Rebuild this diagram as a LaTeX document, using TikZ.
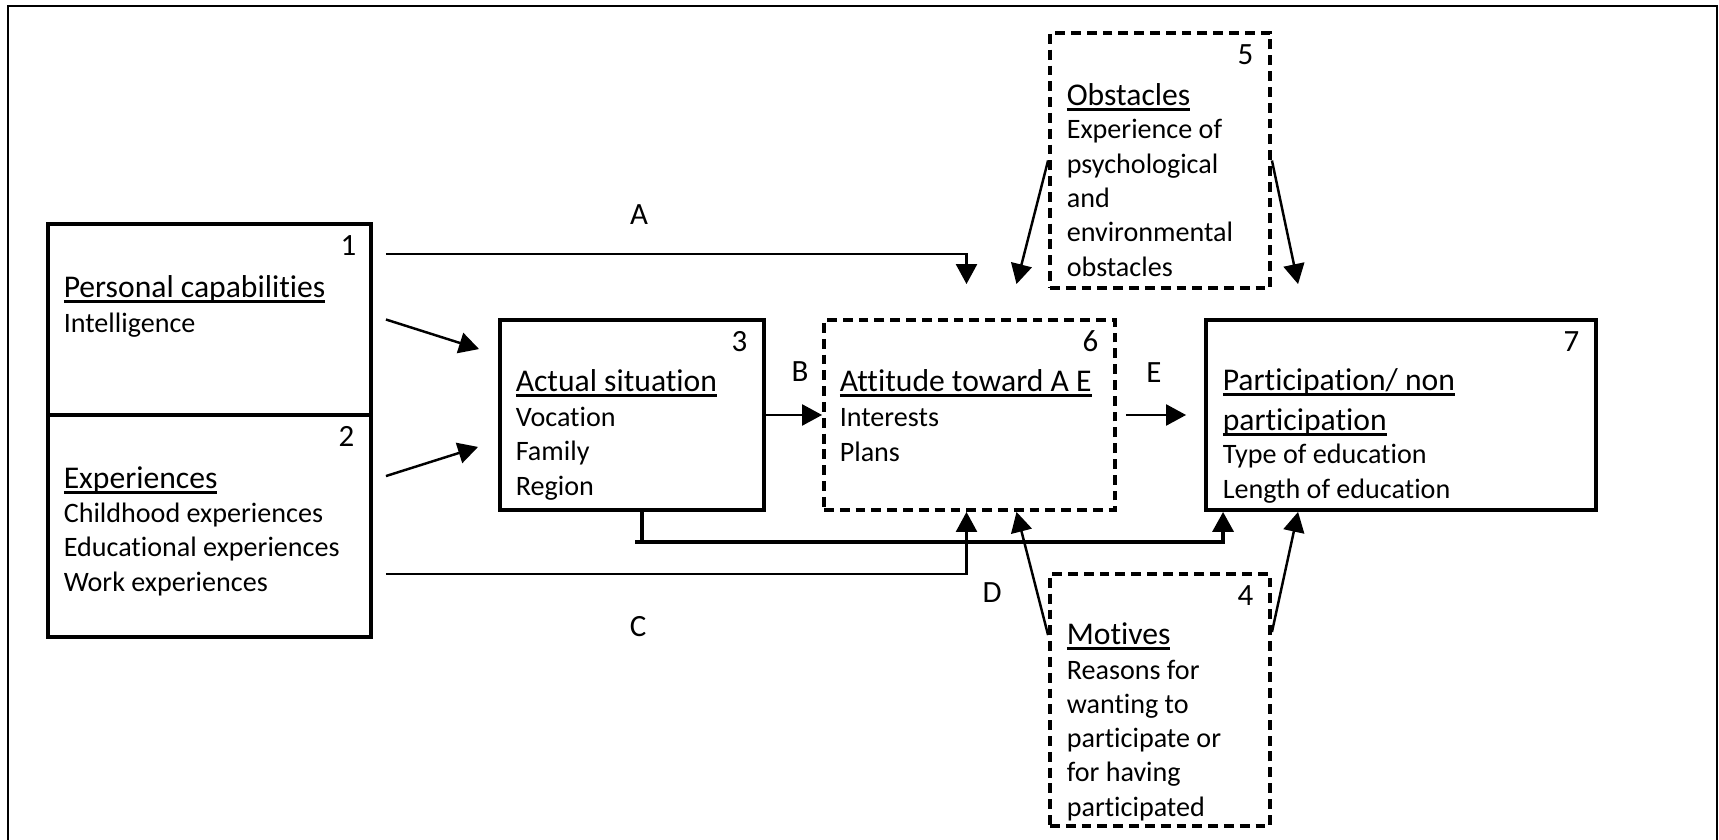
\documentclass[tikz,border=0pt]{standalone}
\usepackage{fontspec}
\setmainfont{Carlito}[Ligatures=NoCommon]
\usetikzlibrary{arrows.meta}
\newcommand\undl[1]{\setbox0\hbox{#1}\rlap{\rule[-0.55mm]{\wd0}{0.25mm}}\box0}
\tikzset{
    solid-box/.style = {draw, line width=1.1pt, rectangle, inner sep=0pt},
    dashed-box/.style = {solid-box, dash pattern=on 2.8pt off 1.7pt},
    box-title/.style = {font=\fontsize{9}{11.38}\selectfont, anchor=base west, align=left, inner sep=0pt},
    box-text/.style = {font=\fontsize{8}{9.75}\selectfont, anchor=base west, align=left, inner sep=0pt},
    box-number/.style = {font=\fontsize{8.8}{11}\selectfont, anchor=base east, inner sep=0pt},
    flow-label/.style = {font=\fontsize{8.8}{11}\selectfont, inner sep=0pt},
    flow-line/.style = {line width=0.7pt},
    flow-arrow/.style = {flow-line, -{Triangle[length=2mm, width=2.1mm]}},
}
\begin{document}
\begin{tikzpicture}[x=0.1mm, y=-0.1mm]
\useasboundingbox (0,0) rectangle (1719,840);
\draw[line width=0.5pt] (8,850) -- (8,6) -- (1717,6) -- (1717,850);

\node[solid-box, minimum width=32.3mm, minimum height=19.1mm] (capab) at (209.5,319.5) {};
\node[solid-box, minimum width=32.3mm, minimum height=22.2mm] (exper) at (209.5,526) {};
\node[solid-box, minimum width=26.4mm, minimum height=19mm] (actual) at (632,415) {};
\node[dashed-box, minimum width=29.1mm, minimum height=19mm] (attit) at (969.5,415) {};
\node[solid-box, minimum width=39mm, minimum height=19mm] (partic) at (1401,415) {};
\node[dashed-box, minimum width=22mm, minimum height=25.5mm] (obstac) at (1160,160.5) {};
\node[dashed-box, minimum width=22mm, minimum height=25.2mm] (motiv) at (1160,700) {};

\node[box-number] (capab-num) at ([shift={(-16,33)}]capab.north east) {1};
\node[box-title] (capab-title) at ([shift={(17,75)}]capab.north west) {\undl{Personal capabilities}};
\node[box-text] (capab-text) at ([shift={(17,110)}]capab.north west) {Intelligence};

\node[box-number] (exper-num) at ([shift={(-18,33)}]exper.north east) {2};
\node[box-title] (exper-title) at ([shift={(17,75)}]exper.north west) {\undl{Experiences}};
\node[box-text] (exper-text) at ([shift={(17,178)}]exper.north west) {Childhood experiences\\Educational experiences\\Work experiences};

\node[box-number] (actual-num) at ([shift={(-18,33)}]actual.north east) {3};
\node[box-title] (actual-title) at ([shift={(17,73)}]actual.north west) {\undl{Actual situation}};
\node[box-text] (actual-text) at ([shift={(17,177)}]actual.north west) {Vocation\\Family\\Region};

\node[box-number] (attit-num) at ([shift={(-18,33)}]attit.north east) {6};
\node[box-title] (attit-title) at ([shift={(17,73)}]attit.north west) {\undl{Attitude toward A E}};
\node[box-text] (attit-text) at ([shift={(17,143)}]attit.north west) {Interests\\Plans};

\node[box-number] (partic-num) at ([shift={(-18,33)}]partic.north east) {7};
\node[box-title] (partic-title) at ([shift={(18,112)}]partic.north west) {\undl{Participation/ non}\\\undl{participation}};
\node[box-text] (partic-text) at ([shift={(18,180)}]partic.north west) {Type of education\\Length of education};

\node[box-number] (obstac-num) at ([shift={(-18,33)}]obstac.north east) {5};
\node[box-title] (obstac-title) at ([shift={(18,74)}]obstac.north west) {\undl{Obstacles}};
\node[box-text] (obstac-text) at ([shift={(18,245)}]obstac.north west) {Experience of\\psychological\\and\\environmental\\obstacles};

\node[box-number] (motiv-num) at ([shift={(-18,33)}]motiv.north east) {4};
\node[box-title] (motiv-title) at ([shift={(18,72)}]motiv.north west) {\undl{Motives}};
\node[box-text] (motiv-text) at ([shift={(18,244)}]motiv.north west) {Reasons for\\wanting to\\participate or\\for having\\participated};

\draw[flow-arrow] ([shift={(13,32)}]capab.north east) -| ([shift={(-3,-34)}]attit.north);
\draw[flow-arrow] ([shift={(13,0)}]capab.east) -- ([shift={(-19,31)}]actual.north west);
\draw[flow-arrow] ([shift={(13,63)}]exper.north east) -- ([shift={(-20,-65)}]actual.south west);
\draw[flow-arrow] ([shift={(13,-65)}]exper.south east) -| ([shift={(-3,0)}]attit.south);
\draw[flow-arrow] (actual.east) -- (attit.west);
\draw[flow-line, line width=1pt] ([shift={(10,0)}]actual.south) -- ++(0,30);
\draw[flow-arrow, line width=1pt] ([shift={(3,30)}]actual.south) -| ([shift={(19,0)}]partic.south west);
\draw[flow-arrow] ([shift={(9,0)}]attit.east) -- ([shift={(-18,0)}]partic.west);
\draw[flow-arrow] (obstac.west) -- ([shift={(47,-34)}]attit.north);
\draw[flow-arrow] (obstac.east) -- ([shift={(94,-34)}]partic.north west);
\draw[flow-arrow] ([shift={(0,63)}]motiv.north west) -- ([shift={(47,0)}]attit.south);
\draw[flow-arrow] ([shift={(0,60)}]motiv.north east) -- ([shift={(94,0)}]partic.south west);

\node[flow-label] (lbl-a) at (639,215) {A};
\node[flow-label] (lbl-b) at (800,372) {B};
\node[flow-label] (lbl-c) at (638,627) {C};
\node[flow-label] (lbl-d) at (992,593) {D};
\node[flow-label] (lbl-e) at (1154,373) {E};
\end{tikzpicture}
\end{document}
